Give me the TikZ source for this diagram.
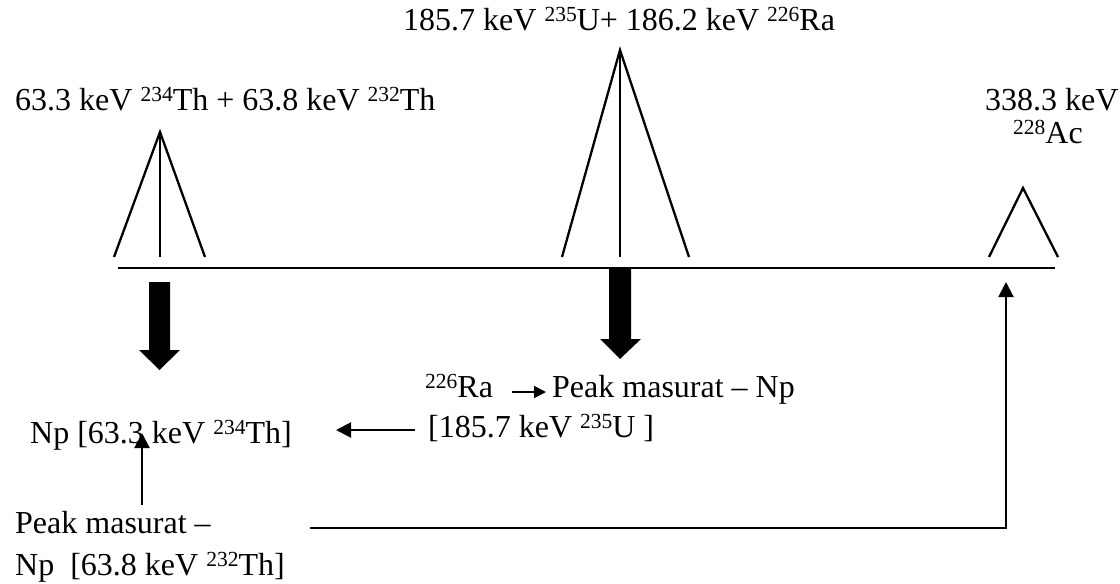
\documentclass[tikz,border=0pt]{standalone}
\usepackage{fontspec}
\setmainfont{Liberation Serif}
\usetikzlibrary{arrows.meta}
\newcommand\isot[1]{\raisebox{9pt}{\fontsize{21.5}{21.5}\selectfont #1}}
\begin{document}
\begin{tikzpicture}[x=1pt,y=-1pt,
  font=\fontsize{32}{36}\selectfont,
  lbl/.style={anchor=base west,inner sep=0pt},
  peak/.style={line width=2.3pt},
  axis/.style={line width=2pt},
  conn/.style={line width=2pt,-{Triangle[length=15pt,width=15pt]}},
  small/.style={line width=2pt,-{Triangle[length=12pt,width=12pt]}},
  bigarrow/.style={fill=black}]
\useasboundingbox (0,0) rectangle (1120,584);
% axis
\draw[axis] (118,268) -- (1055,268);
% peaks
\draw[peak] (114,257) -- (160,132) -- (205,257);
\draw[peak] (160,132) -- (160,257);
\draw[peak] (562,257) -- (620,50) -- (689,257);
\draw[peak] (620,50) -- (620,257);
\draw[peak] (989,257) -- (1023,188) -- (1058,257);
% thick arrows
\fill[bigarrow] (149,282) -- (170,282) -- (170,350) -- (180,350) -- (159.5,370) -- (139,350) -- (149,350) -- cycle;
\fill[bigarrow] (609,269) -- (631,269) -- (631,339) -- (641,339) -- (620,359) -- (600,339) -- (609,339) -- cycle;
% labels
\node[lbl] (t1) at (15,110) {63.3 keV \isot{234}Th + 63.8 keV \isot{232}Th};
\node[lbl] (t2) at (403,30) {185.7 keV \isot{235}U+ 186.2 keV \isot{226}Ra};
\node[lbl] (t3a) at (985,110) {338.3 keV};
\node[lbl] (t3b) at (1013,143) {\isot{228}Ac};
\node[lbl] (n1) at (30,443) {Np [63.3 keV \isot{234}Th]};
\node[lbl] (r1) at (425,397) {\isot{226}Ra};
\node[lbl] (r2) at (552,397) {Peak masurat -- Np};
\node[lbl] (r3) at (428,437) {[185.7 keV \isot{235}U ]};
\node[lbl] (p1) at (15,533) {Peak masurat --};
\node[lbl] (p2) at (15,575) {Np\ \ [63.8 keV \isot{232}Th]};
% connector end points
\coordinate (a1s) at (415,430);
\coordinate (a1e) at (336,430);
\coordinate (a2s) at (142,505);
\coordinate (a2e) at (142,433);
\coordinate (a3s) at (310,528);
\coordinate (a3c) at (1006,528);
\coordinate (a3e) at (1006,282);
\coordinate (a4s) at (512,392);
\coordinate (a4e) at (546,392);
% connectors
\draw[conn] (a1s) -- (a1e);
\draw[conn] (a2s) -- (a2e);
\draw[conn] (a3s) -- (a3c) -- (a3e);
\draw[small] (a4s) -- (a4e);
\end{tikzpicture}
\end{document}
